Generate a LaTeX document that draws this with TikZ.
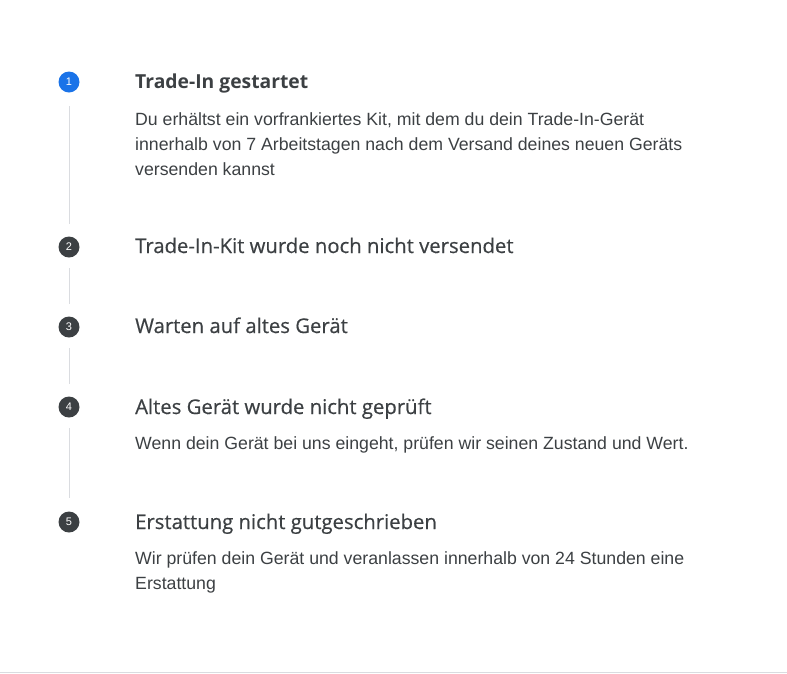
\documentclass[tikz,border=0pt]{standalone}
\usepackage{fontspec}
\setmainfont{Liberation Sans}
\newfontfamily\titlefont[FakeBold=0.5]{Open Sans}
\newfontfamily\titlebold{Open Sans}
\definecolor{bluedot}{HTML}{1A73E8}
\definecolor{darkdot}{HTML}{3C4043}
\definecolor{txt}{HTML}{3C4043}
\definecolor{rule}{HTML}{DADCE0}
\tikzset{
  dot/.style={circle, fill=darkdot, minimum size=21pt, inner sep=0pt, text=white, font=\fontsize{11}{11}\selectfont},
  bluestep/.style={dot, fill=bluedot},
  title/.style={anchor=base west, inner sep=0pt, text=txt, font=\titlefont\fontsize{20.3}{24}\selectfont},
  body/.style={anchor=north west, inner sep=0pt, text=txt, align=left, font=\fontsize{17.7}{25}\selectfont},
  conn/.style={draw=rule, line width=1pt}
}
\begin{document}
\begin{tikzpicture}[x=1pt,y=-1pt]
\useasboundingbox (0,0) rectangle (787,673);
\node[bluestep] (d1) at (69,82) {1};
\node[dot] (d2) at (69,247) {2};
\node[dot] (d3) at (69,327) {3};
\node[dot] (d4) at (69,407) {4};
\node[dot] (d5) at (69,522) {5};
\coordinate (l1a) at (69,106); \coordinate (l1b) at (69,224);
\coordinate (l2a) at (69,268); \coordinate (l2b) at (69,304);
\coordinate (l3a) at (69,348); \coordinate (l3b) at (69,384);
\coordinate (l4a) at (69,428); \coordinate (l4b) at (69,498);
\draw[conn] (l1a) -- (l1b);
\draw[conn] (l2a) -- (l2b);
\draw[conn] (l3a) -- (l3b);
\draw[conn] (l4a) -- (l4b);
\node[title, font=\titlebold\bfseries\fontsize{19.3}{24}\selectfont] (t1) at (135,88) {Trade-In gestartet};
\node[body] (b1) at (135,112) {Du erhältst ein vorfrankiertes Kit, mit dem du dein Trade-In-Gerät\\innerhalb von 7 Arbeitstagen nach dem Versand deines neuen Geräts\\versenden kannst};
\node[title] (t2) at (135,253) {Trade-In-Kit wurde noch nicht versendet};
\node[title] (t3) at (135,333) {Warten auf altes Gerät};
\node[title] (t4) at (135,414) {Altes Gerät wurde nicht geprüft};
\node[body] (b4) at (135,436) {Wenn dein Gerät bei uns eingeht, prüfen wir seinen Zustand und Wert.};
\node[title] (t5) at (135,529) {Erstattung nicht gutgeschrieben};
\node[body] (b5) at (135,551) {Wir prüfen dein Gerät und veranlassen innerhalb von 24 Stunden eine\\Erstattung};
\coordinate (r1) at (0,672); \coordinate (r2) at (787,672);
\draw[conn] (r1) -- (r2);
\end{tikzpicture}
\end{document}
